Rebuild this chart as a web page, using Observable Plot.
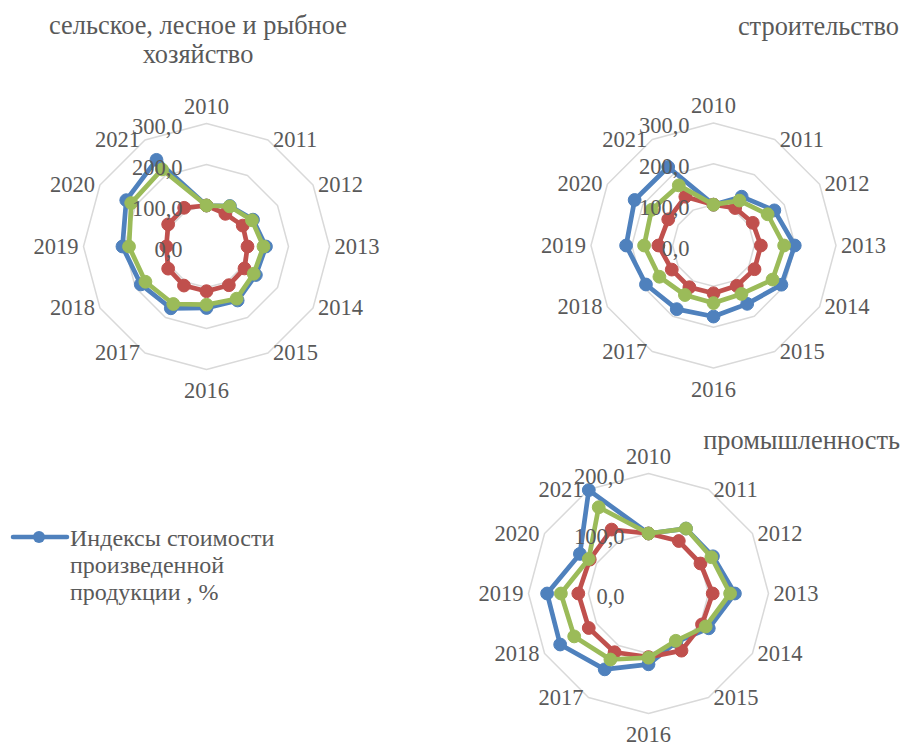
<!DOCTYPE html>
<html>
<head>
<meta charset="utf-8">
<script src="https://cdn.jsdelivr.net/npm/d3@7"></script>
<script src="https://cdn.jsdelivr.net/npm/@observablehq/plot@0.6"></script>
<style>
  html, body { margin: 0; padding: 0; background: #fff; overflow: hidden; }
  #wrap, #wrap * { font-family: "Liberation Serif", "Times New Roman", Tinos, serif !important; }
  #wrap { position: relative; width: 904px; height: 742px; background: #fff; overflow: hidden; color: #595959; }
  .title { position: absolute; white-space: nowrap; font-size: 26.5px; line-height: 29px; }
  .chart { position: absolute; }
  #legend { position: absolute; left: 70px; top: 526px; line-height: 27px; white-space: nowrap; font-size: 22px; }
  #swatch { position: absolute; left: 10px; top: 527px; }
</style>
</head>
<body>
<div id="wrap">
  <div class="title" id="t1" style="left:0px; width:396px; text-align:center;">сельское, лесное и рыбное<br>хозяйство</div>
  <div class="title" id="t2" style="right:5px; text-align:right;">строительство</div>
  <div class="title" id="t3" style="right:4px; text-align:right;">промышленность</div>
  <svg id="swatch" width="62" height="20"></svg>
  <div id="legend">Индексы стоимости<br>произведенной<br>продукции , %</div>
</div>
<script>
// ---- data ----
const years = ["2010","2011","2012","2013","2014","2015","2016","2017","2018","2019","2020","2021"];
const seriesNames = ["s1", "s2", "s3"];
const seriesColors = ["#4f81bd", "#c0504d", "#9bbb59"];

// сельское, лесное и рыбное хозяйство
const agriBlue  = [100, 114, 131, 145, 139, 152, 150, 174, 185, 205, 226, 244];
const agriRed   = [100,  92, 102, 100, 107, 109, 109, 110, 108,  98, 108, 109];
const agriGreen = [100, 113, 128, 139, 133, 147, 142, 162, 172, 189, 212, 217];
const agriTicks = [0, 100, 200, 300];

// строительство
const constrBlue  = [100, 138, 172, 199, 192, 165, 174, 180, 191, 214, 223, 222];
const constrRed   = [100, 106, 111, 116, 116, 114, 117, 118, 118, 135, 128, 138];
const constrGreen = [100, 127, 153, 173, 167, 137, 141, 140, 153, 170, 175, 170];
const constrTicks = [0, 100, 200, 300];

// промышленность
const indBlue  = [100, 125, 124, 144, 116,  93, 118, 146, 170, 169, 132, 199];
const indRed   = [100, 101, 100, 107, 103, 110, 106, 113, 115, 117, 113, 123];
const indGreen = [100, 125, 121, 136, 110,  91, 107, 127, 143, 146, 115, 166];
const indTicks = [0, 100, 200];

const FF = `"Liberation Serif", serif`;
const ctx = document.createElement("canvas").getContext("2d");
function sizeFor(text, targetWidth, lo, hi) {
  ctx.font = `100px ${FF}`;
  const s = 100 * targetWidth / ctx.measureText(text).width;
  return +Math.max(lo, Math.min(hi, s)).toFixed(2);
}
const titleSize = sizeFor("сельское, лесное и рыбное", 298, 22, 28);
const legendSize = sizeFor("Индексы стоимости", 205, 20, 24);
// place title baselines (Liberation Serif ascent 0.891, content height 1.107)
function topFor(baseline, size, lh) { return baseline - ((lh - 1.107 * size) / 2 + 0.891 * size); }
[["t1", 34.3], ["t2", 35], ["t3", 449]].forEach(([id, b]) => {
  const el = document.getElementById(id);
  el.style.fontSize = titleSize + "px";
  el.style.top = topFor(b, titleSize, 29) + "px";
});
const lg = document.getElementById("legend");
lg.style.fontSize = legendSize + "px";
lg.style.top = topFor(546.7, legendSize, 27) + "px";

// ---- drawing ----
const S = 380, HALF = S / 2;
const fmt = v => v.toFixed(1).replace(".", ",");
const FS = 22.5;

function radar(values, ticks, R) {
  const max = d3.max(ticks);
  const D = max * HALF / R;
  const n = years.length;
  const ang = i => i * 2 * Math.PI / n;
  const X = d => d.value * Math.sin(ang(d.i));
  const Y = d => d.value * Math.cos(ang(d.i));

  const grid = ticks.filter(t => t > 0).flatMap(t => years.map((yr, i) => ({ring: t, i, value: t})));
  const labels = years.map((yr, i) => ({year: yr, i, value: max}));
  const marks = [
    Plot.line(grid, {x: X, y: Y, z: "ring", curve: "linear-closed", stroke: "#d9d9d9", strokeWidth: 1.5})
  ];
  values.forEach((vals, si) => {
    const pts = vals.map((v, i) => ({series: seriesNames[si], i, value: v}));
    marks.push(Plot.line(pts, {x: X, y: Y, curve: "linear-closed", stroke: seriesColors[si], strokeWidth: 4.7, strokeLinejoin: "round"}));
    marks.push(Plot.dot(pts, {x: X, y: Y, r: 6.4, fill: seriesColors[si], stroke: seriesColors[si], strokeWidth: 1}));
  });
  const eps = 1e-6;
  const top = labels.filter(d => Math.abs(Math.sin(ang(d.i))) < eps && Math.cos(ang(d.i)) > 0);
  const bottom = labels.filter(d => Math.abs(Math.sin(ang(d.i))) < eps && Math.cos(ang(d.i)) < 0);
  const right = labels.filter(d => Math.sin(ang(d.i)) > eps);
  const left = labels.filter(d => Math.sin(ang(d.i)) < -eps);
  const tx = {fontFamily: FF, fontSize: FS, fill: "#595959"};
  marks.push(Plot.text(top, {x: X, y: Y, text: "year", textAnchor: "middle", lineAnchor: "bottom", dy: -10, ...tx}));
  marks.push(Plot.text(bottom, {x: X, y: Y, text: "year", textAnchor: "middle", lineAnchor: "top", dy: 13, ...tx}));
  marks.push(Plot.text(right, {x: X, y: Y, text: "year", textAnchor: "start", lineAnchor: "middle", dx: 5, ...tx}));
  marks.push(Plot.text(left, {x: X, y: Y, text: "year", textAnchor: "end", lineAnchor: "middle", dx: -5, ...tx}));
  marks.push(Plot.text(ticks, {x: () => 0, y: t => t, text: t => fmt(t), textAnchor: "end", lineAnchor: "middle", dx: -24, dy: 3, ...tx}));

  return Plot.plot({
    width: S, height: S, margin: 0,
    x: {domain: [-D, D], axis: null},
    y: {domain: [-D, D], axis: null},
    style: {background: "transparent", overflow: "visible", fontFamily: FF, fontSize: FS + "px", color: "#595959"},
    marks
  });
}

function place(svg, cx, cy) {
  const d = document.createElement("div");
  d.className = "chart";
  d.style.left = (cx - HALF) + "px";
  d.style.top = (cy - HALF) + "px";
  d.appendChild(svg);
  document.getElementById("wrap").appendChild(d);
}

place(radar([agriBlue, agriRed, agriGreen], agriTicks, 123), 206, 246);
place(radar([constrBlue, constrRed, constrGreen], constrTicks, 122.5), 712.7, 245);
place(radar([indBlue, indRed, indGreen], indTicks, 120), 648.3, 592.7);

// legend swatch
const sw = d3.select("#swatch");
sw.append("line").attr("x1", 3).attr("x2", 57).attr("y1", 10).attr("y2", 10)
  .attr("stroke", seriesColors[0]).attr("stroke-width", 4.5).attr("stroke-linecap", "round");
sw.append("circle").attr("cx", 29).attr("cy", 10).attr("r", 6).attr("fill", seriesColors[0]);
</script>
</body>
</html>
